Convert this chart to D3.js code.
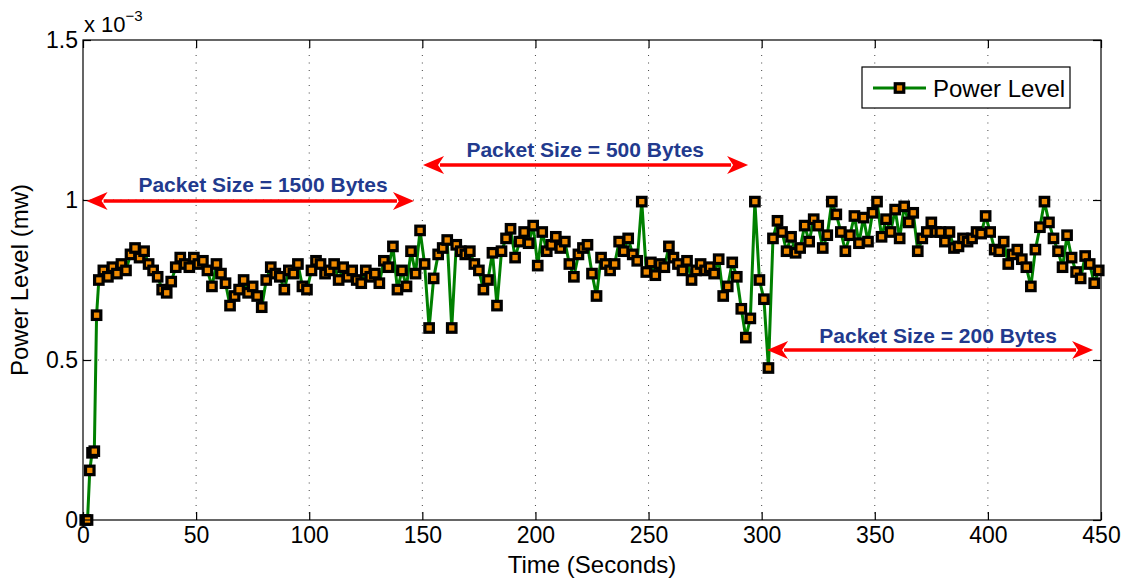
<!DOCTYPE html>
<html>
<head>
<meta charset="utf-8">
<script src="https://cdn.jsdelivr.net/npm/d3@7"></script>
<style>
  body { margin: 0; background: #fff; }
  svg text { font-family: "Liberation Sans", Arial, Helvetica, sans-serif; }
</style>
</head>
<body>
<svg id="chart" width="1127" height="580"></svg>
<script>
// power level readings, in units of 1e-3 mW
const startTimes = [1, 2, 3, 4, 5, 6, 7]
const startPower = [0, 0, 0.155, 0.21, 0.215, 0.64, 0.75]
// after the ramp-up the samples are read every 2 s, from t = 9 to t = 449
const sampleTimes = d3.range(9, 450, 2)
const samplePower = [
  0.78, 0.76, 0.79, 0.77, 0.80,
  0.78, 0.83, 0.85, 0.82, 0.84,
  0.80, 0.78, 0.76, 0.72, 0.71,
  0.745, 0.79, 0.82, 0.80, 0.79,
  0.82, 0.80, 0.81, 0.78, 0.73,
  0.80, 0.77, 0.74, 0.67, 0.70,
  0.72, 0.75, 0.71, 0.73, 0.70,
  0.665, 0.75, 0.79, 0.77, 0.76,
  0.72, 0.78, 0.77, 0.80, 0.73,
  0.72, 0.78, 0.81, 0.80, 0.77,
  0.78, 0.80, 0.75, 0.79, 0.76,
  0.78, 0.75, 0.74, 0.78, 0.76,
  0.77, 0.74, 0.81, 0.79, 0.855,
  0.72, 0.78, 0.73, 0.84, 0.77,
  0.905, 0.80, 0.60, 0.755, 0.83,
  0.85, 0.875, 0.60, 0.86, 0.84,
  0.83, 0.84, 0.80, 0.78, 0.72,
  0.75, 0.835, 0.67, 0.84, 0.88,
  0.91, 0.82, 0.87, 0.90, 0.865,
  0.92, 0.795, 0.90, 0.84, 0.86,
  0.885, 0.85, 0.87, 0.80, 0.76,
  0.83, 0.85, 0.86, 0.77, 0.70,
  0.82, 0.80, 0.78, 0.80, 0.87,
  0.84, 0.88, 0.83, 0.81, 0.995,
  0.775, 0.805, 0.765, 0.80, 0.79,
  0.855, 0.82, 0.80, 0.78, 0.81,
  0.75, 0.78, 0.80, 0.78, 0.79,
  0.77, 0.815, 0.70, 0.73, 0.805,
  0.76, 0.66, 0.57, 0.63, 0.995,
  0.75, 0.69, 0.475, 0.88, 0.935,
  0.90, 0.84, 0.885, 0.835, 0.85,
  0.92, 0.87, 0.94, 0.92, 0.85,
  0.89, 0.995, 0.955, 0.90, 0.84,
  0.89, 0.95, 0.865, 0.945, 0.87,
  0.96, 0.995, 0.885, 0.94, 0.90,
  0.97, 0.88, 0.98, 0.93, 0.96,
  0.84, 0.88, 0.90, 0.93, 0.90,
  0.90, 0.87, 0.90, 0.85, 0.855,
  0.88, 0.87, 0.88, 0.90, 0.895,
  0.95, 0.90, 0.845, 0.84, 0.87,
  0.80, 0.83, 0.845, 0.815, 0.79,
  0.73, 0.845, 0.915, 0.995, 0.93,
  0.88, 0.84, 0.79, 0.89, 0.82,
  0.775, 0.755, 0.825, 0.80, 0.74,
  0.78
]

const xTicks = [0, 50, 100, 150, 200, 250, 300, 350, 400, 450]
const yTicks = [0, 0.5, 1, 1.5]

// packet size annotations (time range and level in data units)
const noteLabels = ['Packet Size = 1500 Bytes', 'Packet Size = 500 Bytes', 'Packet Size = 200 Bytes']
const noteFrom = [1.6, 150.3, 302.4]
const noteTo = [146.3, 294, 446.5]
const noteLevel = [0.997, 1.109, 0.531]
const noteTextAt = [79.6, 222, 378]
const noteTextLevel = [1.025, 1.134, 0.553]

const data = d3.zip(startTimes.concat(sampleTimes), startPower.concat(samplePower))

const margin = { top: 40, left: 83, bottom: 60, right: 26 }
const svg = d3.select('#chart')
const width = +svg.attr('width')
const height = +svg.attr('height')

const x = d3.scaleLinear().domain([0, 450]).range([margin.left, width - margin.right])
const y = d3.scaleLinear().domain([0, 1.5]).range([height - margin.bottom, margin.top])

const green = '#008000'
const orange = '#f08a00'
const red = '#ff0000'
const blue = '#223a8e'

// grid
const grid = svg.append('g').attr('stroke', '#444').attr('stroke-width', 1).attr('stroke-dasharray', '1,6.5')
grid.selectAll('.vx').data(xTicks.slice(1, -1)).join('line')
  .attr('x1', d => x(d)).attr('x2', d => x(d))
  .attr('y1', y(1.5)).attr('y2', y(0))
grid.selectAll('.hy').data(yTicks.slice(1, -1)).join('line')
  .attr('x1', x(0)).attr('x2', x(450))
  .attr('y1', d => y(d)).attr('y2', d => y(d))

// axes, ticks inward on all four sides
const axisStyle = g => {
  g.select('.domain').remove()
  g.selectAll('.tick line').attr('stroke', '#000').attr('stroke-width', 1.2)
  g.selectAll('.tick text').attr('fill', '#000').attr('font-size', 23)
}
svg.append('g').attr('transform', `translate(0,${y(0)})`)
  .call(d3.axisBottom(x).tickValues(xTicks).tickSize(-8).tickPadding(7).tickFormat(d3.format('d')))
  .call(axisStyle)
svg.append('g').attr('transform', `translate(0,${y(1.5)})`)
  .call(d3.axisTop(x).tickValues(xTicks).tickSize(-8).tickFormat(''))
  .call(axisStyle)
svg.append('g').attr('transform', `translate(${x(0)},0)`)
  .call(d3.axisLeft(y).tickValues(yTicks).tickSize(-8).tickPadding(5).tickFormat(d => String(d)))
  .call(axisStyle)
svg.append('g').attr('transform', `translate(${x(450)},0)`)
  .call(d3.axisRight(y).tickValues(yTicks).tickSize(-8).tickFormat(''))
  .call(axisStyle)

// series
const line = d3.line().x(d => x(d[0])).y(d => y(d[1]))
svg.append('path').datum(data)
  .attr('fill', 'none').attr('stroke', green).attr('stroke-width', 3)
  .attr('stroke-linejoin', 'round')
  .attr('d', line)

const ms = 8.5
svg.append('g').selectAll('rect').data(data).join('rect')
  .attr('x', d => x(d[0]) - ms / 2).attr('y', d => y(d[1]) - ms / 2)
  .attr('width', ms).attr('height', ms)
  .attr('fill', orange).attr('stroke', '#000').attr('stroke-width', 3.2)

// annotations
const headLen = 21
const headHalf = 9
const notes = svg.append('g')
noteLabels.forEach((label, i) => {
  const x1 = x(noteFrom[i])
  const x2 = x(noteTo[i])
  const yy = y(noteLevel[i])
  notes.append('line')
    .attr('x1', x1 + headLen - 4).attr('x2', x2 - headLen + 4)
    .attr('y1', yy).attr('y2', yy)
    .attr('stroke', red).attr('stroke-width', 3.5)
  notes.append('path')
    .attr('d', `M${x1},${yy}L${x1 + headLen},${yy - headHalf}L${x1 + headLen - 6},${yy}L${x1 + headLen},${yy + headHalf}Z`)
    .attr('fill', red)
  notes.append('path')
    .attr('d', `M${x2},${yy}L${x2 - headLen},${yy - headHalf}L${x2 - headLen + 6},${yy}L${x2 - headLen},${yy + headHalf}Z`)
    .attr('fill', red)
  notes.append('text')
    .attr('x', x(noteTextAt[i])).attr('y', y(noteTextLevel[i]))
    .attr('text-anchor', 'middle')
    .attr('font-size', 21).attr('font-weight', 'bold')
    .attr('fill', blue)
    .text(label)
})

// plot box
svg.append('rect')
  .attr('x', x(0)).attr('y', y(1.5))
  .attr('width', x(450) - x(0)).attr('height', y(0) - y(1.5))
  .attr('fill', 'none').attr('stroke', '#000').attr('stroke-width', 1.2)

// exponent label
const expo = svg.append('text')
  .attr('x', x(0) + 1).attr('y', y(1.5) - 8)
  .attr('font-size', 22).attr('fill', '#000')
expo.append('tspan').text('x 10')
expo.append('tspan').attr('dy', -11).attr('font-size', 15).text('\u22123')

// axis titles
svg.append('text')
  .attr('x', (x(0) + x(450)) / 2).attr('y', height - 7)
  .attr('text-anchor', 'middle').attr('font-size', 24).attr('fill', '#000')
  .text('Time (Seconds)')
svg.append('text')
  .attr('transform', `translate(28,${(y(0) + y(1.5)) / 2}) rotate(-90)`)
  .attr('text-anchor', 'middle').attr('font-size', 24).attr('fill', '#000')
  .text('Power Level (mw)')

// legend
const legend = svg.append('g').attr('transform', `translate(${x(450) - 239},${y(1.5) + 27})`)
legend.append('rect')
  .attr('width', 208).attr('height', 41)
  .attr('fill', '#fff').attr('stroke', '#000').attr('stroke-width', 1.2)
legend.append('line')
  .attr('x1', 11).attr('x2', 64).attr('y1', 21).attr('y2', 21)
  .attr('stroke', green).attr('stroke-width', 3)
legend.append('rect')
  .attr('x', 37.5 - ms / 2).attr('y', 21 - ms / 2).attr('width', ms).attr('height', ms)
  .attr('fill', orange).attr('stroke', '#000').attr('stroke-width', 3.2)
legend.append('text')
  .attr('x', 71).attr('y', 29.5)
  .attr('font-size', 24).attr('fill', '#000')
  .text('Power Level')
</script>
</body>
</html>
